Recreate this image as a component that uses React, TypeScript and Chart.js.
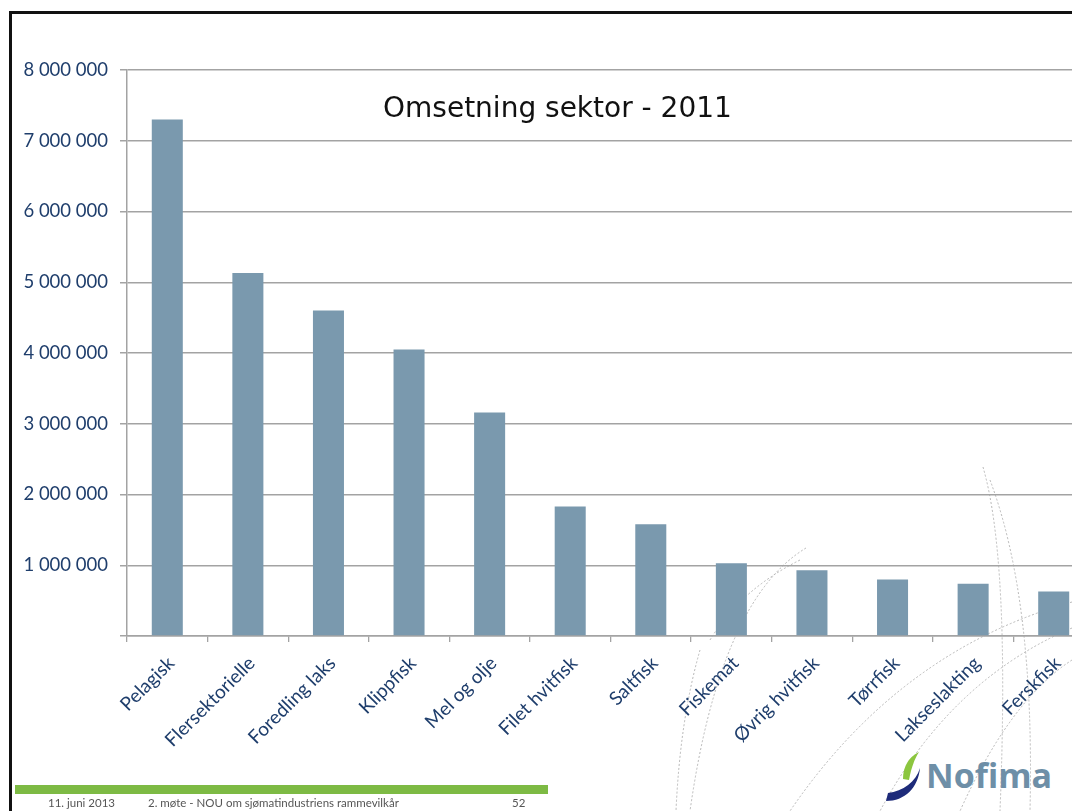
import React, { useEffect, useRef } from "react";
import { Chart, registerables } from "chart.js";

Chart.register(...registerables);

const categories = [
  "Pelagisk",
  "Flersektorielle",
  "Foredling laks",
  "Klippfisk",
  "Mel og olje",
  "Filet hvitfisk",
  "Saltfisk",
  "Fiskemat",
  "Øvrig hvitfisk",
  "Tørrfisk",
  "Lakseslakting",
  "Ferskfisk",
];

const omsetning = [
  7300000, 5130000, 4600000, 4050000, 3160000, 1830000, 1580000, 1030000,
  930000, 800000, 740000, 630000,
];

const yMin = 0;
const yMax = 8000000;
const yStep = 1000000;

const titleText = "Omsetning sektor - 2011";
const footerDate = "11. juni 2013";
const footerTitle = "2. møte - NOU om sjømatindustriens rammevilkår";
const footerPage = "52";
const logoText = "Nofima";

const labelColor = "#1F3E6C";
const barColor = "#7A99AE";
const gridColor = "#A3A3A3";

function fmt(v: number): string {
  if (v === 0) return "";
  return String(v).replace(/\B(?=(\d{3})+(?!\d))/g, " ");
}

function BarChart() {
  const ref = useRef<HTMLCanvasElement | null>(null);
  useEffect(() => {
    if (!ref.current) return;
    const chart = new Chart(ref.current, {
      type: "bar",
      data: {
        labels: categories,
        datasets: [
          {
            label: "Omsetning",
            data: omsetning,
            backgroundColor: barColor,
            borderWidth: 0,
            barPercentage: 0.385,
            categoryPercentage: 1,
          },
        ],
      },
      options: {
        animation: false,
        responsive: true,
        maintainAspectRatio: false,
        layout: { padding: { top: 70, left: 0, right: 0, bottom: 0 } },
        plugins: {
          legend: { display: false },
          title: { display: false },
          tooltip: { enabled: false },
        },
        scales: {
          x: {
            offset: true,
            grid: {
              display: true,
              drawOnChartArea: false,
              drawTicks: true,
              tickLength: 6,
              color: gridColor,
              lineWidth: 1.3,
              offset: true,
            },
            border: { display: true, color: gridColor, width: 1.5 },
            ticks: {
              color: labelColor,
              font: { family: "Lato", size: 19 },
              minRotation: 45,
              maxRotation: 45,
              autoSkip: false,
              padding: 10,
              labelOffset: 4,
            },
            afterFit: (scale: any) => {
              scale.height = 144;
              scale.paddingLeft = 0;
              scale.paddingRight = 0;
            },
          },
          y: {
            min: yMin,
            max: yMax,
            grid: {
              color: gridColor,
              lineWidth: 1.5,
              drawTicks: true,
              tickLength: 7,
            },
            border: { display: true, color: gridColor, width: 1.5 },
            ticks: {
              stepSize: yStep,
              color: labelColor,
              font: { family: "Lato", size: 18.5 },
              padding: 12,
              callback: (v: any) => fmt(Number(v)),
            },
            afterFit: (scale: any) => {
              scale.width = 127;
            },
          },
        },
      },
    });
    return () => chart.destroy();
  }, []);
  return (
    <div style={{ position: "absolute", left: 0, top: 0, width: 1094, height: 780 }}>
      <canvas ref={ref} />
    </div>
  );
}

function Decorations() {
  return (
    <svg
      width={1072}
      height={811}
      style={{ position: "absolute", left: 0, top: 0, pointerEvents: "none" }}
    >
      <g fill="none" stroke="#B8B8B8" strokeWidth={1} strokeDasharray="2 2">
        <path d="M806 548 Q 720 600 690 811" />
        <path d="M800 560 Q 740 590 710 640" />
        <path d="M983 467 Q 1010 560 1000 811" />
        <path d="M990 480 Q 1035 600 1030 811" />
        <path d="M1072 602 Q 900 650 790 811" />
        <path d="M1072 628 Q 950 680 880 811" />
        <path d="M1072 660 Q 1010 700 960 811" />
        <path d="M700 650 Q 680 720 676 811" />
      </g>
      {/* logo swoosh */}
      <path
        d="M886 801 C 905 801, 918 788, 920 768 C 916 782, 903 791, 888 793 Z"
        fill="#1E2B7A"
      />
      <path
        d="M903 779 C 903 766, 909 757, 919 752 C 914 760, 911 769, 909 780 Z"
        fill="#8CC63F"
      />
      <text
        x={926}
        y={788}
        fill="#6E8FA7"
        fontFamily="Open Sans"
        fontWeight={700}
        fontSize={34}
      >
        {logoText}
      </text>
    </svg>
  );
}

const footerStyle: React.CSSProperties = {
  position: "absolute",
  top: 796,
  fontFamily: "Lato",
  fontSize: 11.5,
  color: "#555",
  whiteSpace: "nowrap",
};

export default function App() {
  return (
    <div
      style={{
        position: "fixed",
        left: 0,
        top: 0,
        width: 1072,
        height: 811,
        overflow: "hidden",
        background: "#FFFFFF",
      }}
    >
      <Decorations />
      <BarChart />
      <div
        style={{
          position: "absolute",
          left: 9,
          top: 11,
          width: 1100,
          height: 900,
          borderLeft: "3px solid #111",
          borderTop: "3px solid #111",
          pointerEvents: "none",
        }}
      />
      <div
        style={{
          position: "absolute",
          left: 383,
          top: 91,
          fontFamily: "'Comic Sans MS', 'DejaVu Sans', sans-serif",
          fontSize: 28,
          lineHeight: "normal",
          color: "#111",
          whiteSpace: "nowrap",
        }}
      >
        {titleText}
      </div>
      <div
        style={{
          position: "absolute",
          left: 15,
          top: 785,
          width: 533,
          height: 9,
          background: "#7DBA44",
        }}
      />
      <div style={{ ...footerStyle, left: 48 }}>{footerDate}</div>
      <div style={{ ...footerStyle, left: 148 }}>{footerTitle}</div>
      <div style={{ ...footerStyle, left: 512 }}>{footerPage}</div>
    </div>
  );
}
